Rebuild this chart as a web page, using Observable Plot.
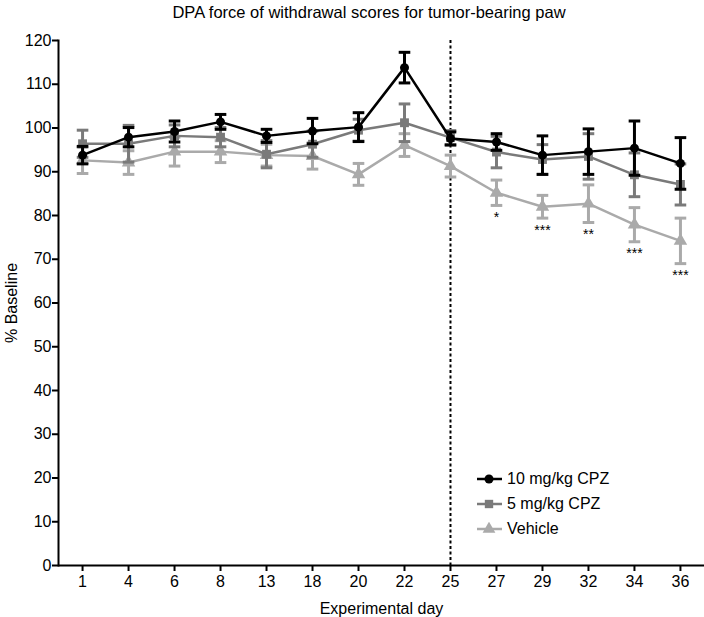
<!DOCTYPE html>
<html>
<head>
<meta charset="utf-8">
<script src="https://cdn.jsdelivr.net/npm/d3@7"></script>
<script src="https://cdn.jsdelivr.net/npm/@observablehq/plot@0.6"></script>
<style>
  html, body { margin: 0; padding: 0; background: #fff; }
  #wrap { position: relative; width: 704px; height: 617px; font-family: "Liberation Sans", Arial, sans-serif; }
  #title { height: 24px; line-height: 24px; font-size: 16.5px; color: #000; text-align: center; padding-left: 34px; box-sizing: border-box; width: 704px; }
  #legend { position: absolute; left: 475px; top: 466px; font-size: 16px; color: #000; }
  .row { display: flex; align-items: center; height: 25px; }
  .row svg { margin-right: 4px; }
</style>
</head>
<body>
<div id="wrap">
  <div id="title">DPA force of withdrawal scores for tumor-bearing paw</div>
  <div id="chart"></div>
  <div id="legend"></div>
</div>
<script>
const days = [1, 4, 6, 8, 13, 18, 20, 22, 25, 27, 29, 32, 34, 36];
const yTicks = [0, 10, 20, 30, 40, 50, 60, 70, 80, 90, 100, 110, 120];
const seriesNames = ["10 mg/kg CPZ", "5 mg/kg CPZ", "Vehicle"];
const seriesColors = ["#000000", "#7a7a7a", "#aaaaaa"];
const seriesSymbols = ["circle", "square", "triangle"];

const cpz10 = [93.8, 97.9, 99.2, 101.4, 98.2, 99.3, 100.2, 113.8, 97.6, 96.8, 93.8, 94.6, 95.4, 91.9];
const cpz10Err = [2.0, 2.2, 2.4, 1.7, 1.5, 2.9, 3.3, 3.5, 1.5, 1.9, 4.4, 5.2, 6.2, 5.9];
const cpz5 = [96.4, 96.4, 98.2, 97.9, 94.0, 96.3, 99.5, 101.2, 97.8, 94.5, 92.8, 93.5, 89.3, 87.1];
const cpz5Err = [3.1, 4.2, 2.5, 2.2, 3.1, 3.0, 2.5, 4.3, 1.6, 3.6, 3.4, 5.2, 5.0, 4.7];
const vehicle = [92.6, 92.1, 94.6, 94.6, 93.8, 93.6, 89.4, 96.1, 91.3, 85.2, 82.0, 82.7, 77.9, 74.2];
const vehicleErr = [3.0, 2.7, 3.3, 2.5, 2.5, 3.0, 2.5, 2.6, 2.5, 2.9, 2.6, 4.3, 3.9, 5.2];
const vehicleSig = ["", "", "", "", "", "", "", "", "", "*", "***", "**", "***", "***"];
const markerDay = [25];

const seriesValues = [cpz10, cpz5, vehicle];
const seriesErrors = [cpz10Err, cpz5Err, vehicleErr];

const rows = (k) => days.map((d, i) => ({
  day: d, value: seriesValues[k][i], err: seriesErrors[k][i],
  lo: seriesValues[k][i] - seriesErrors[k][i], hi: seriesValues[k][i] + seriesErrors[k][i]
}));
const sigRows = days.map((d, i) => ({day: d, lo: vehicle[i] - vehicleErr[i], label: vehicleSig[i]})).filter(r => r.label);

const cap = { draw(ctx, size) { const w = Math.sqrt(size / Math.PI); ctx.moveTo(-w, 0); ctx.lineTo(w, 0); } };

function seriesMarks(k) {
  const data = rows(k);
  const c = seriesColors[k];
  return [
    Plot.ruleX(data, {x: "day", y1: "lo", y2: "hi", stroke: c, strokeWidth: 3}),
    Plot.dot(data, {x: "day", y: "hi", symbol: cap, r: 5.8, stroke: c, strokeWidth: 3, fill: "none"}),
    Plot.dot(data, {x: "day", y: "lo", symbol: cap, r: 5.8, stroke: c, strokeWidth: 3, fill: "none"}),
    Plot.line(data, {x: "day", y: "value", stroke: c, strokeWidth: 2.5}),
    Plot.dot(data, {x: "day", y: "value", symbol: seriesSymbols[k], r: k === 0 ? 4.5 : 5, fill: c, stroke: "none"})
  ];
}

const chart = Plot.plot({
  width: 704,
  height: 593,
  marginLeft: 58,
  marginRight: 0,
  marginTop: 16,
  marginBottom: 52,
  style: {fontFamily: "'Liberation Sans', Arial, sans-serif", fontSize: "16px", color: "#000", background: "#fff", overflow: "visible"},
  x: {type: "point", domain: days, padding: 0.523, round: false},
  y: {domain: [0, 120]},
  marks: [
    Plot.axisY({ticks: yTicks, tickSize: 6, tickPadding: 1, strokeWidth: 2, fontSize: 16,
      label: "% Baseline", labelAnchor: "center", labelOffset: 53, labelArrow: "none"}),
    Plot.axisX({tickSize: 6, tickPadding: 4, strokeWidth: 2, fontSize: 16,
      label: "Experimental day", labelAnchor: "center", labelOffset: 48, labelArrow: "none"}),
    Plot.frame({anchor: "left", strokeWidth: 2}),
    Plot.ruleY([0], {strokeWidth: 2}),
    Plot.ruleX(markerDay, {strokeWidth: 2, strokeDasharray: "3,2.5"}),
    ...seriesMarks(2),
    ...seriesMarks(1),
    ...seriesMarks(0),
    Plot.text(sigRows, {x: "day", y: "lo", text: "label", dy: 12, fontSize: 14, lineAnchor: "middle", fill: "#000"})
  ]
});
document.getElementById("chart").appendChild(chart);

const legend = document.getElementById("legend");
seriesNames.forEach((name, k) => {
  const row = document.createElement("div");
  row.className = "row";
  const sym = d3.symbol(d3[{circle: "symbolCircle", square: "symbolSquare", triangle: "symbolTriangle"}[seriesSymbols[k]]], k === 0 ? 64 : 70)();
  row.innerHTML = `<svg width="28" height="14"><line x1="2" x2="27" y1="7" y2="7" stroke="${seriesColors[k]}" stroke-width="2.5"/><path transform="translate(14,7)" d="${sym}" fill="${seriesColors[k]}"/></svg><span>${name}</span>`;
  legend.appendChild(row);
});
</script>
</body>
</html>
